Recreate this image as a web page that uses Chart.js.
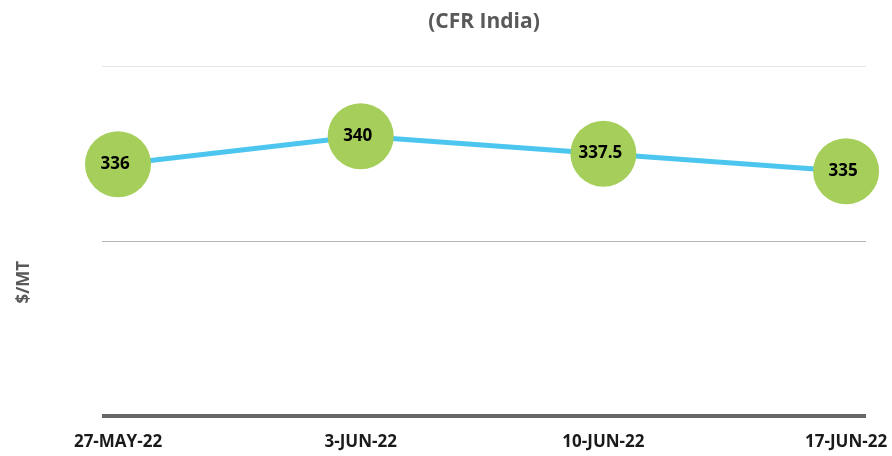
<!DOCTYPE html>
<html>
<head>
<meta charset="utf-8">
<script src="https://cdn.jsdelivr.net/npm/chart.js@4/dist/chart.umd.min.js"></script>
<style>
  html, body { margin: 0; padding: 0; background: #fff; }
  #wrap { width: 892px; height: 456px; }
</style>
</head>
<body>
<div id="wrap"><canvas id="priceChart"></canvas></div>
<script>
var dates = ['27-MAY-22', '3-JUN-22', '10-JUN-22', '17-JUN-22']
var prices = [336, 340, 337.5, 335]
var yTicks = [300, 325, 350]

var FONT = '"Open Sans", sans-serif'

// write each value inside its green dot, and the rotated unit label
var pointText = {
  id: 'pointText',
  afterDatasetsDraw: function (chart) {
    var ctx = chart.ctx
    var meta = chart.getDatasetMeta(0)
    ctx.save()
    ctx.fillStyle = '#000'
    ctx.font = 'bold 17px ' + FONT
    ctx.textAlign = 'center'
    ctx.textBaseline = 'middle'
    meta.data.forEach(function (pt, i) {
      ctx.fillText(prices[i], pt.x - 3, pt.y)
    })
    ctx.restore()
  },
  afterDraw: function (chart) {
    var ctx = chart.ctx
    var area = chart.chartArea
    ctx.save()
    ctx.translate(24, (area.top + area.bottom) / 2 + 41)
    ctx.rotate(-Math.PI / 2)
    ctx.fillStyle = '#595959'
    ctx.font = 'bold 17px ' + FONT
    ctx.textAlign = 'center'
    ctx.textBaseline = 'middle'
    ctx.fillText('$/MT', 0, 0)
    ctx.restore()
  }
}

new Chart(document.getElementById('priceChart'), {
  type: 'line',
  data: {
    datasets: [{
      data: prices.map(function (v, i) { return {x: i, y: v} }),
      borderColor: '#4cc6ee',
      borderWidth: 5,
      pointRadius: 33,
      pointHoverRadius: 33,
      pointBackgroundColor: '#a5cf5a',
      pointBorderColor: '#a5cf5a',
      pointBorderWidth: 0,
      tension: 0,
      clip: false
    }]
  },
  options: {
    responsive: true,
    maintainAspectRatio: false,
    animation: false,
    events: [],
    layout: {autoPadding: false, padding: {left: 102, right: 26, top: 0, bottom: 0}},
    plugins: {
      legend: {display: false},
      tooltip: {enabled: false},
      title: {
        display: true,
        text: '(CFR India)',
        fullSize: false,
        color: '#595959',
        font: {family: FONT, size: 21, weight: 'bold'},
        padding: {top: 9, bottom: 32}
      }
    },
    scales: {
      x: {
        type: 'linear',
        min: -0.066,
        max: 3.082,
        grid: {display: false, drawTicks: false},
        border: {display: false},
        afterFit: function (axis) {
          axis.height = 40
          axis.paddingLeft = 0
          axis.paddingRight = 0
        },
        ticks: {
          stepSize: 1,
          includeBounds: false,
          autoSkip: false,
          maxRotation: 0,
          padding: 16,
          color: '#1a1a1a',
          font: {family: FONT, size: 17, weight: 'bold'},
          callback: function (v) { return dates[v] }
        }
      },
      y: {
        min: yTicks[0],
        max: yTicks[yTicks.length - 1],
        afterBuildTicks: function (axis) {
          axis.ticks = yTicks.map(function (v) { return {value: v} })
        },
        border: {display: false},
        ticks: {display: false},
        grid: {
          drawTicks: false,
          color: function (c) { return ['#666666', '#b5b5b5', '#e6e6e6'][c.index] },
          lineWidth: function (c) { return [4, 1, 1][c.index] }
        }
      }
    }
  },
  plugins: [pointText]
})
</script>
</body>
</html>
